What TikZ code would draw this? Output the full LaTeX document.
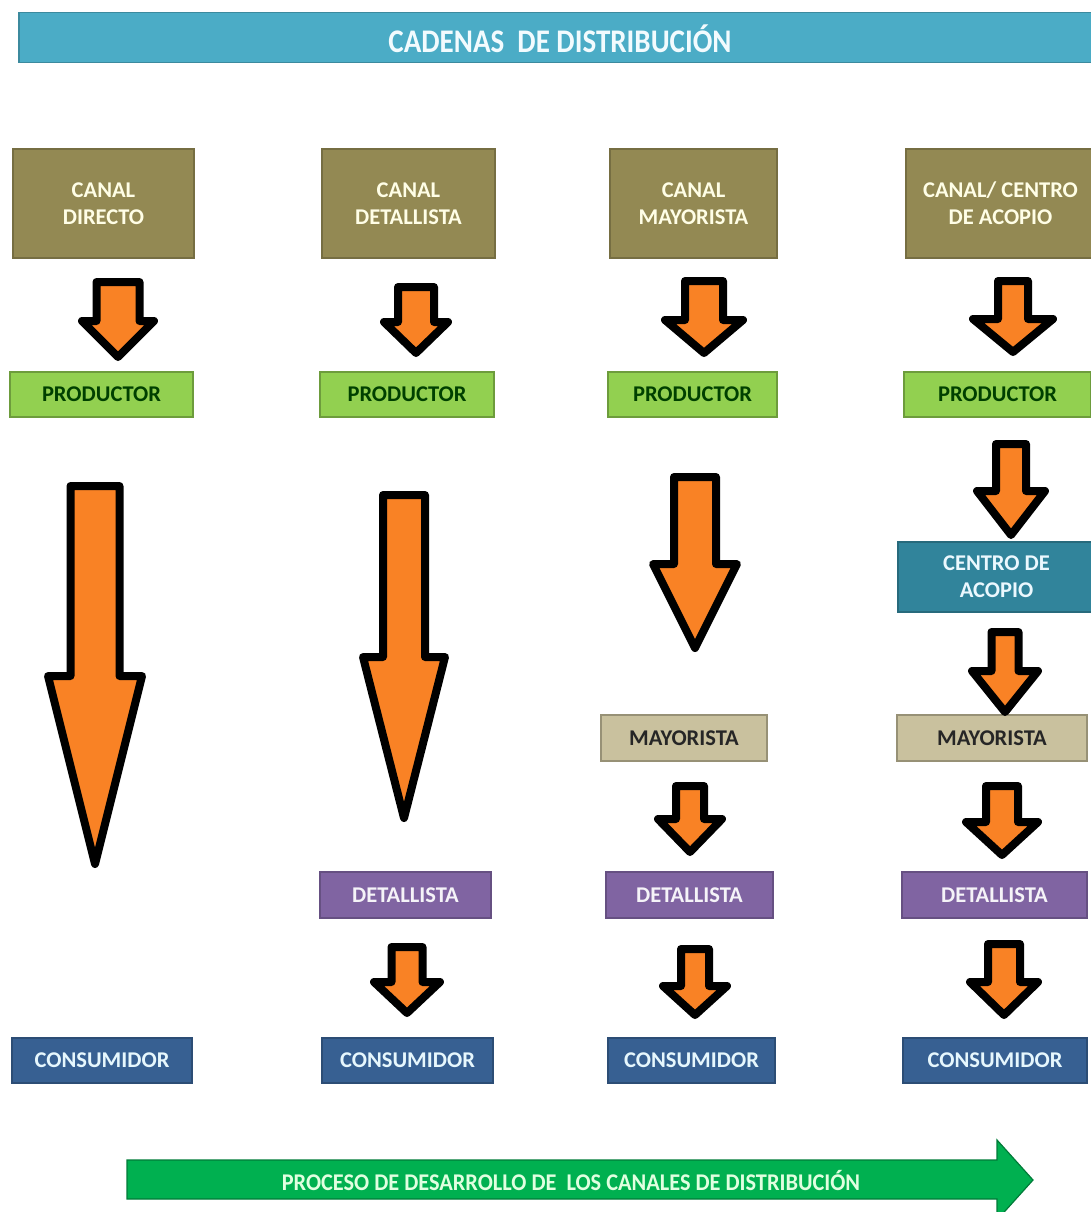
\documentclass[tikz,border=0pt]{standalone}
\usepackage{graphicx}
\usepackage{fontspec}
\setmainfont{Carlito}

\definecolor{titlebar}{HTML}{4BACC6}
\definecolor{olive}{HTML}{938953}
\definecolor{prodgreen}{HTML}{92D050}
\definecolor{teal}{HTML}{31849B}
\definecolor{tan}{HTML}{C9C19E}
\definecolor{purple}{HTML}{8064A2}
\definecolor{navy}{HTML}{376092}
\definecolor{orangefill}{HTML}{F98225}
\definecolor{procgreen}{HTML}{00B050}

\tikzset{
  lbl/.style={font=\bfseries\fontsize{22.5}{27}\selectfont, align=center,
    inner sep=0pt, line width=1.5pt},
  header/.style={lbl, fill=olive, draw=olive!80!black, text=yellow!10!white,
    minimum height=109pt},
  prod/.style={lbl, fill=prodgreen, draw=prodgreen!75!black, text=green!25!black,
    minimum height=45pt},
  centro/.style={lbl, fill=teal, draw=teal!80!black, text=cyan!8!white,
    minimum height=70pt},
  mayor/.style={lbl, fill=tan, draw=tan!75!black, text=black!85,
    minimum height=46pt},
  detal/.style={lbl, fill=purple, draw=purple!80!black, text=purple!8!white,
    minimum height=46pt},
  consu/.style={lbl, fill=navy, draw=navy!80!black, text=cyan!10!white,
    minimum height=45pt},
  downarrow/.style={fill=orangefill, draw=black, line width=8pt, line join=round},
}

% block arrow pointing down: centre x, top, shaft half width, head start, head half width, tip
\newcommand\blockarrow[6]{%
  \filldraw[downarrow] (#1-#3,#2) -- (#1+#3,#2) -- (#1+#3,#4) -- (#1+#5,#4)
    -- (#1,#6) -- (#1-#5,#4) -- (#1-#3,#4) -- cycle;}

\begin{document}
\begin{tikzpicture}[x=1pt,y=-1pt]
  \useasboundingbox (0,0) rectangle (1091,1212);
  \clip (0,0) rectangle (1091,1212);
  \fill[white] (0,0) rectangle (1091,1212);

  % title bar
  \node[fill=titlebar, draw=titlebar!80!black, line width=1.5pt, inner sep=0pt,
        minimum width=1090pt, minimum height=50pt, anchor=north west] (title) at (18,12) {};
  \node[font=\bfseries\fontsize{33}{33}\selectfont, text=cyan!5!white] (titletext)
        at (560,39) {\scalebox{0.88}[1]{CADENAS\ \ DE DISTRIBUCIÓN}};

  % channel headers
  \node[header, minimum width=181pt] (h1) at (103.5,203.5) {CANAL\\DIRECTO};
  \node[header, minimum width=173pt] (h2) at (408.5,203.5) {CANAL\\DETALLISTA};
  \node[header, minimum width=167pt] (h3) at (693.5,203.5) {CANAL\\MAYORISTA};
  \node[header, minimum width=189pt] (h4) at (1000.5,203.5) {CANAL/ CENTRO\\DE ACOPIO};

  % producers
  \node[prod, minimum width=183pt] (p1) at (101.5,394.5) {PRODUCTOR};
  \node[prod, minimum width=174pt] (p2) at (407,394.5) {PRODUCTOR};
  \node[prod, minimum width=169pt] (p3) at (692.5,394.5) {PRODUCTOR};
  \node[prod, minimum width=187pt] (p4) at (997.5,394.5) {PRODUCTOR};

  % collection centre
  \node[centro, minimum width=197pt] (ca) at (996.5,577) {CENTRO DE\\ACOPIO};

  % wholesalers
  \node[mayor, minimum width=166pt] (m3) at (684,738) {MAYORISTA};
  \node[mayor, minimum width=190pt] (m4) at (992,738) {MAYORISTA};

  % retailers
  \node[detal, minimum width=171pt] (d2) at (405.5,895) {DETALLISTA};
  \node[detal, minimum width=167pt] (d3) at (689.5,895) {DETALLISTA};
  \node[detal, minimum width=185pt] (d4) at (994.5,895) {DETALLISTA};

  % consumers
  \node[consu, minimum width=180pt] (c1) at (102,1060.5) {CONSUMIDOR};
  \node[consu, minimum width=171pt] (c2) at (407.5,1060.5) {CONSUMIDOR};
  \node[consu, minimum width=167pt] (c3) at (691.5,1060.5) {CONSUMIDOR};
  \node[consu, minimum width=184pt] (c4) at (995,1060.5) {CONSUMIDOR};

  % header -> producer
  \blockarrow{118}{282}{21.5}{321}{36}{357}
  \blockarrow{416}{287}{18}{322}{32}{353}
  \blockarrow{704}{281}{19}{320}{39}{353}
  \blockarrow{1013}{281}{15}{319}{40}{352}

  % long arrows
  \blockarrow{95}{486}{24.5}{676}{47}{864}
  \blockarrow{404}{495}{21}{657}{41}{818}
  \blockarrow{695}{477}{21}{564}{42}{648}

  % fourth channel chain
  \blockarrow{1011}{444}{15}{491}{34}{535}
  \blockarrow{1005}{632}{13.5}{671}{33}{712}
  \blockarrow{1002}{786}{16}{822}{36}{855}
  \blockarrow{1004}{944}{16}{982}{34}{1015}

  % wholesaler / retailer steps
  \blockarrow{690}{786}{14}{819}{32}{852}
  \blockarrow{407}{947}{15.5}{982}{33}{1013}
  \blockarrow{695}{949}{14}{986}{32}{1015}

  % process arrow
  \fill[procgreen] (127,1160) -- (997,1160) -- (997,1140) -- (1033,1180)
    -- (997,1220) -- (997,1199) -- (127,1199) -- cycle;
  \draw[procgreen!70!black, line width=1.2pt] (127,1160) -- (997,1160) -- (997,1140) -- (1033,1180)
    -- (997,1220) -- (997,1199) -- (127,1199) -- cycle;
  \node[font=\bfseries\fontsize{24}{24}\selectfont, text=green!12!white] (proc)
    at (571,1180) {\scalebox{0.93}[1]{PROCESO DE DESARROLLO DE\ \ LOS CANALES DE DISTRIBUCIÓN}};
\end{tikzpicture}
\end{document}
